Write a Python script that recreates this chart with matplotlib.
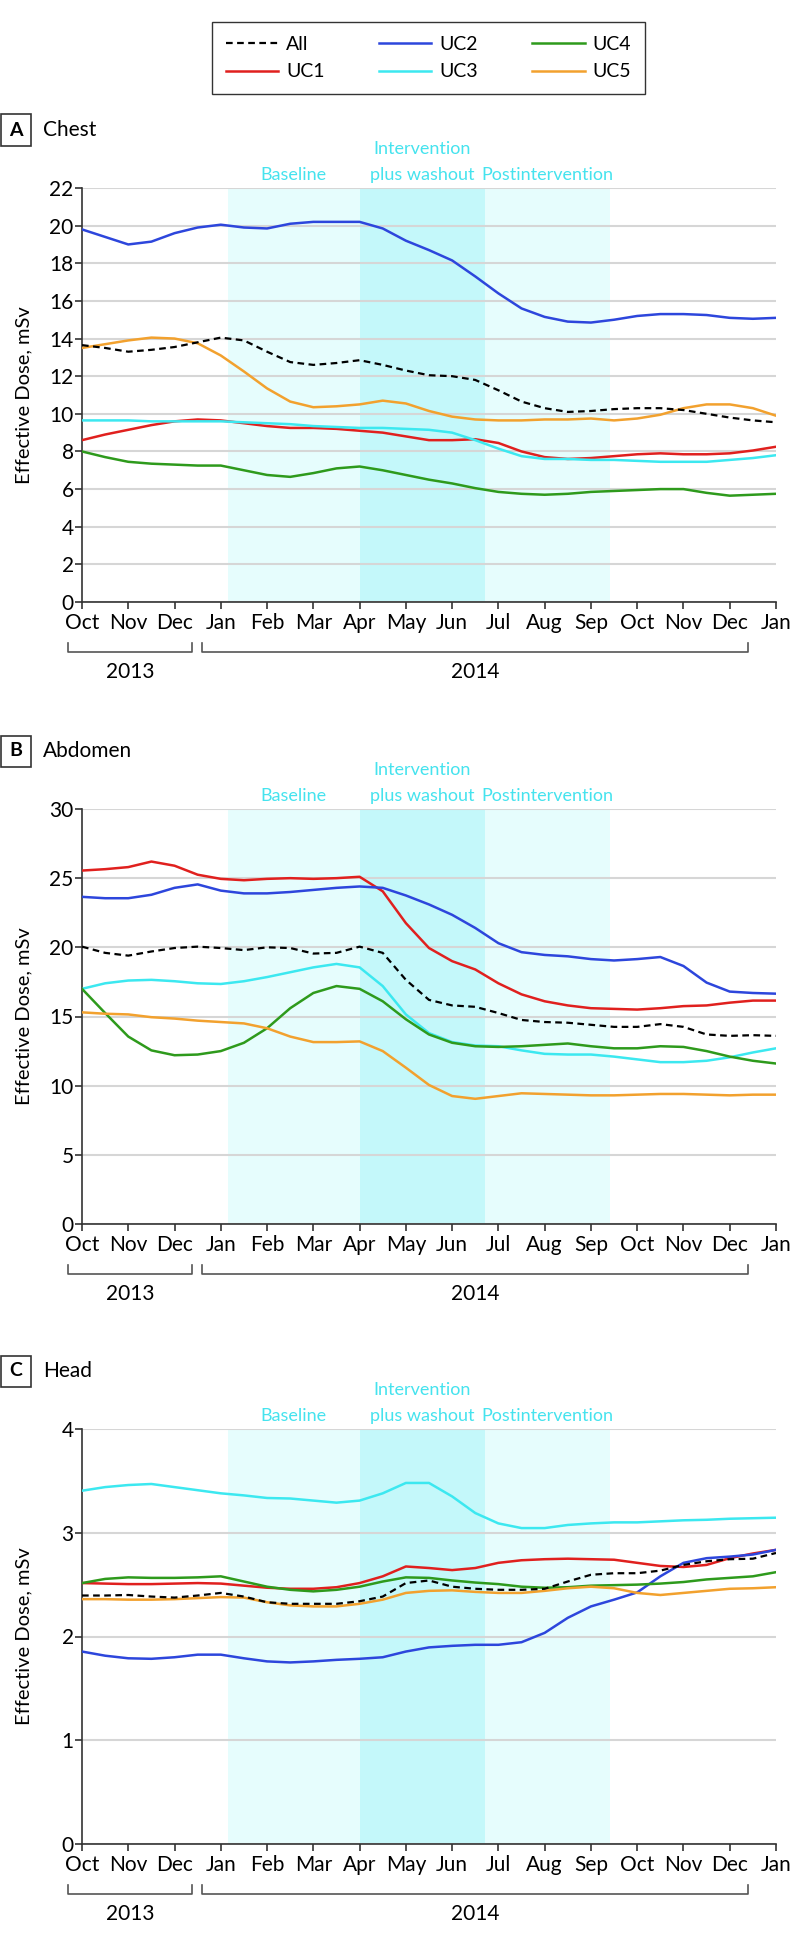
import numpy as np
import matplotlib
matplotlib.use("Agg")
import matplotlib.pyplot as plt
from matplotlib.lines import Line2D
from matplotlib.patches import Rectangle
from matplotlib.transforms import blended_transform_factory

plt.rcParams["font.family"] = ["Lato", "DejaVu Sans"]

months = ["Oct", "Nov", "Dec", "Jan", "Feb", "Mar", "Apr", "May", "Jun",
          "Jul", "Aug", "Sep", "Oct", "Nov", "Dec", "Jan"]
# values read every half month, Oct 2013 -> Jan 2015
t = np.arange(31) / 2

# A - chest
chest_all = [13.65, 13.5, 13.3, 13.4, 13.55, 13.8, 14.05, 13.9, 13.3, 12.75, 12.6, 12.7, 12.85, 12.6, 12.3, 12.05,
             12.0, 11.8, 11.25, 10.65, 10.3, 10.1, 10.15, 10.25, 10.3, 10.3, 10.2, 10.0, 9.8, 9.65, 9.55]
chest_uc1 = [8.6, 8.9, 9.15, 9.4, 9.6, 9.7, 9.65, 9.5, 9.35, 9.25, 9.25, 9.2, 9.1, 9.0, 8.8, 8.6,
             8.6, 8.65, 8.45, 8.0, 7.7, 7.6, 7.65, 7.75, 7.85, 7.9, 7.85, 7.85, 7.9, 8.05, 8.25]
chest_uc2 = [19.8, 19.4, 19.0, 19.15, 19.6, 19.9, 20.05, 19.9, 19.85, 20.1, 20.2, 20.2, 20.2, 19.85, 19.2, 18.7,
             18.15, 17.3, 16.4, 15.6, 15.15, 14.9, 14.85, 15.0, 15.2, 15.3, 15.3, 15.25, 15.1, 15.05, 15.1]
chest_uc3 = [9.65, 9.65, 9.65, 9.6, 9.6, 9.6, 9.6, 9.55, 9.5, 9.45, 9.35, 9.3, 9.25, 9.25, 9.2, 9.15,
             9.0, 8.6, 8.15, 7.75, 7.6, 7.6, 7.55, 7.55, 7.5, 7.45, 7.45, 7.45, 7.55, 7.65, 7.8]
chest_uc4 = [8.0, 7.7, 7.45, 7.35, 7.3, 7.25, 7.25, 7.0, 6.75, 6.65, 6.85, 7.1, 7.2, 7.0, 6.75, 6.5,
             6.3, 6.05, 5.85, 5.75, 5.7, 5.75, 5.85, 5.9, 5.95, 6.0, 6.0, 5.8, 5.65, 5.7, 5.75]
chest_uc5 = [13.5, 13.7, 13.9, 14.05, 14.0, 13.75, 13.1, 12.25, 11.35, 10.65, 10.35, 10.4, 10.5, 10.7, 10.55, 10.15,
             9.85, 9.7, 9.65, 9.65, 9.7, 9.7, 9.75, 9.65, 9.75, 9.95, 10.3, 10.5, 10.5, 10.3, 9.9]

# B - abdomen
abd_all = [20.05, 19.6, 19.4, 19.7, 19.95, 20.05, 19.95, 19.8, 20.0, 19.95, 19.55, 19.6, 20.05, 19.6, 17.65, 16.2,
           15.8, 15.7, 15.25, 14.75, 14.6, 14.55, 14.4, 14.25, 14.25, 14.45, 14.25, 13.7, 13.6, 13.65, 13.6]
abd_uc1 = [25.55, 25.65, 25.8, 26.2, 25.9, 25.25, 24.95, 24.85, 24.95, 25.0, 24.95, 25.0, 25.1, 24.05, 21.75, 19.95,
           19.0, 18.4, 17.4, 16.6, 16.1, 15.8, 15.6, 15.55, 15.5, 15.6, 15.75, 15.8, 16.0, 16.15, 16.15]
abd_uc2 = [23.65, 23.55, 23.55, 23.8, 24.3, 24.55, 24.1, 23.9, 23.9, 24.0, 24.15, 24.3, 24.4, 24.3, 23.75, 23.1,
           22.35, 21.4, 20.3, 19.65, 19.45, 19.35, 19.15, 19.05, 19.15, 19.3, 18.65, 17.45, 16.8, 16.7, 16.65]
abd_uc3 = [17.0, 17.4, 17.6, 17.65, 17.55, 17.4, 17.35, 17.55, 17.85, 18.2, 18.55, 18.8, 18.55, 17.2, 15.15, 13.8,
           13.15, 12.9, 12.85, 12.55, 12.3, 12.25, 12.25, 12.1, 11.9, 11.7, 11.7, 11.8, 12.05, 12.4, 12.7]
abd_uc4 = [17.0, 15.25, 13.55, 12.55, 12.2, 12.25, 12.5, 13.1, 14.15, 15.6, 16.7, 17.2, 17.0, 16.1, 14.8, 13.7,
           13.1, 12.85, 12.8, 12.85, 12.95, 13.05, 12.85, 12.7, 12.7, 12.85, 12.8, 12.5, 12.1, 11.8, 11.6]
abd_uc5 = [15.3, 15.2, 15.15, 14.95, 14.85, 14.7, 14.6, 14.5, 14.15, 13.55, 13.15, 13.15, 13.2, 12.5, 11.3, 10.05,
           9.25, 9.05, 9.25, 9.45, 9.4, 9.35, 9.3, 9.3, 9.35, 9.4, 9.4, 9.35, 9.3, 9.35, 9.35]

# C - head
head_all = [2.395, 2.395, 2.40, 2.385, 2.375, 2.395, 2.42, 2.385, 2.33, 2.315, 2.315, 2.315, 2.34, 2.385, 2.515, 2.54,
            2.48, 2.46, 2.45, 2.45, 2.46, 2.53, 2.595, 2.61, 2.61, 2.635, 2.69, 2.725, 2.745, 2.75, 2.805]
head_uc1 = [2.515, 2.51, 2.505, 2.505, 2.51, 2.515, 2.51, 2.49, 2.47, 2.46, 2.46, 2.475, 2.515, 2.58, 2.675, 2.66,
            2.64, 2.66, 2.71, 2.735, 2.745, 2.75, 2.745, 2.74, 2.71, 2.68, 2.67, 2.69, 2.755, 2.80, 2.835]
head_uc2 = [1.855, 1.815, 1.79, 1.785, 1.80, 1.825, 1.825, 1.79, 1.76, 1.75, 1.76, 1.775, 1.785, 1.80, 1.855, 1.895,
            1.91, 1.92, 1.92, 1.945, 2.035, 2.18, 2.29, 2.355, 2.425, 2.58, 2.71, 2.755, 2.77, 2.79, 2.835]
head_uc3 = [3.405, 3.44, 3.46, 3.47, 3.44, 3.41, 3.38, 3.36, 3.335, 3.33, 3.31, 3.29, 3.31, 3.38, 3.48, 3.48,
            3.35, 3.19, 3.09, 3.045, 3.045, 3.075, 3.09, 3.10, 3.10, 3.11, 3.12, 3.125, 3.135, 3.14, 3.145]
head_uc4 = [2.515, 2.555, 2.57, 2.565, 2.565, 2.57, 2.58, 2.53, 2.48, 2.45, 2.435, 2.45, 2.48, 2.53, 2.57, 2.565,
            2.54, 2.52, 2.505, 2.48, 2.47, 2.475, 2.49, 2.495, 2.50, 2.51, 2.525, 2.55, 2.565, 2.58, 2.62]
head_uc5 = [2.36, 2.36, 2.355, 2.355, 2.36, 2.37, 2.38, 2.375, 2.33, 2.30, 2.29, 2.29, 2.315, 2.355, 2.42, 2.44,
            2.445, 2.43, 2.42, 2.42, 2.44, 2.465, 2.48, 2.465, 2.42, 2.40, 2.42, 2.44, 2.46, 2.465, 2.475]

# study phases (month index)
phases = [("Baseline", 3.15, 6.0), ("Intervention\nplus washout", 6.0, 8.71), ("Postintervention", 8.71, 11.41)]

colors = {"UC1": "#e0201e", "UC2": "#2d46dc", "UC3": "#3ce8f0", "UC4": "#2e9a1c", "UC5": "#f2a12e"}
LIGHT = "#e6fdfd"
MID = "#c4f8fa"
PHASE_TXT = "#45e3ee"

W, H = 798, 1943
fig = plt.figure(figsize=(W / 100, H / 100), dpi=100)

panels = [
    ("A", "Chest", chest_all, [chest_uc1, chest_uc2, chest_uc3, chest_uc4, chest_uc5], 22, range(0, 23, 2), 188, 602),
    ("B", "Abdomen", abd_all, [abd_uc1, abd_uc2, abd_uc3, abd_uc4, abd_uc5], 30, range(0, 31, 5), 809, 1224),
    ("C", "Head", head_all, [head_uc1, head_uc2, head_uc3, head_uc4, head_uc5], 4, range(0, 5), 1429, 1844),
]

for letter, title, all_vals, ucs, ymax, yticks, top, bot in panels:
    hpx = bot - top
    ax = fig.add_axes([82 / W, 1 - bot / H, (776 - 82) / W, hpx / H])
    for name, a, b in phases:
        ax.axvspan(a, b, color=MID if name.startswith("Inter") else LIGHT, lw=0, zorder=0)
    for name, vals in zip(["UC1", "UC2", "UC3", "UC4", "UC5"], ucs):
        ax.plot(t, vals, color=colors[name], lw=1.8, zorder=3)
    ax.plot(t, all_vals, color="black", lw=1.6, ls=(0, (3, 2)), zorder=4)

    ax.set_xlim(0, 15)
    ax.set_ylim(0, ymax)
    ax.set_xticks(range(16))
    ax.set_xticklabels(months)
    ax.set_yticks(list(yticks))
    ax.set_axisbelow(True)
    ax.grid(axis="y", color="#d6d6d6", lw=1.5)
    ax.spines[["top", "right"]].set_visible(False)
    for s in ["left", "bottom"]:
        ax.spines[s].set_color("#333333")
        ax.spines[s].set_linewidth(1.2)
    ax.tick_params(axis="both", labelsize=15, color="#333333", length=5, width=1.2)
    ax.tick_params(axis="y", pad=1)
    ax.tick_params(axis="x", pad=3)
    ax.set_ylabel("Effective Dose, mSv", fontsize=14.5, labelpad=6)
    ax.yaxis.set_label_coords(-0.072, 0.5)

    # phase labels
    tr = blended_transform_factory(ax.transData, ax.transAxes)
    for name, a, b in phases:
        mid = (a + b) / 2
        lines = name.split("\n")
        for k, ln in enumerate(reversed(lines)):
            ax.text(mid, 1 + (8 + 26 * k) / hpx, ln, transform=tr, ha="center", va="baseline",
                    fontsize=13, color=PHASE_TXT)

    # year brackets
    yh = -50 / hpx
    yv = -41 / hpx
    for yr, x0, x1 in [("2013", -0.3, 2.38), ("2014", 2.6, 14.4)]:
        ax.plot([x0, x0, x1, x1], [yv, yh, yh, yv], transform=tr, clip_on=False,
                color="#555555", lw=1.2)
        ax.text((x0 + x1) / 2, -70 / hpx, yr, transform=tr, ha="center", va="center", fontsize=15)

    # panel letter + title
    ly = top - 58
    fig.add_artist(Rectangle((1 / W, 1 - (ly + 15.5) / H), 30 / W, 31 / H, transform=fig.transFigure,
                             fill=False, ec="#333333", lw=1.2))
    fig.text(16 / W, 1 - ly / H, letter, ha="center", va="center", fontsize=14, fontweight="bold")
    fig.text(43 / W, 1 - ly / H, title, ha="left", va="center", fontsize=15)

handles = [Line2D([], [], color="black", lw=1.6, ls=(0, (3, 2)))]
handles += [Line2D([], [], color=colors[k], lw=1.8) for k in ["UC1", "UC2", "UC3", "UC4", "UC5"]]
labels = ["All", "UC1", "UC2", "UC3", "UC4", "UC5"]
leg = fig.legend(handles, labels, ncol=3, loc="center", bbox_to_anchor=(428.5 / W, 1 - 58 / H),
                 frameon=True, fancybox=False, edgecolor="black", fontsize=14,
                 handlelength=2.7, handletextpad=0.4, columnspacing=2.8, labelspacing=0.55, borderpad=0.7)
leg.get_frame().set_linewidth(1.0)

fig.savefig("out.png", dpi=100)
